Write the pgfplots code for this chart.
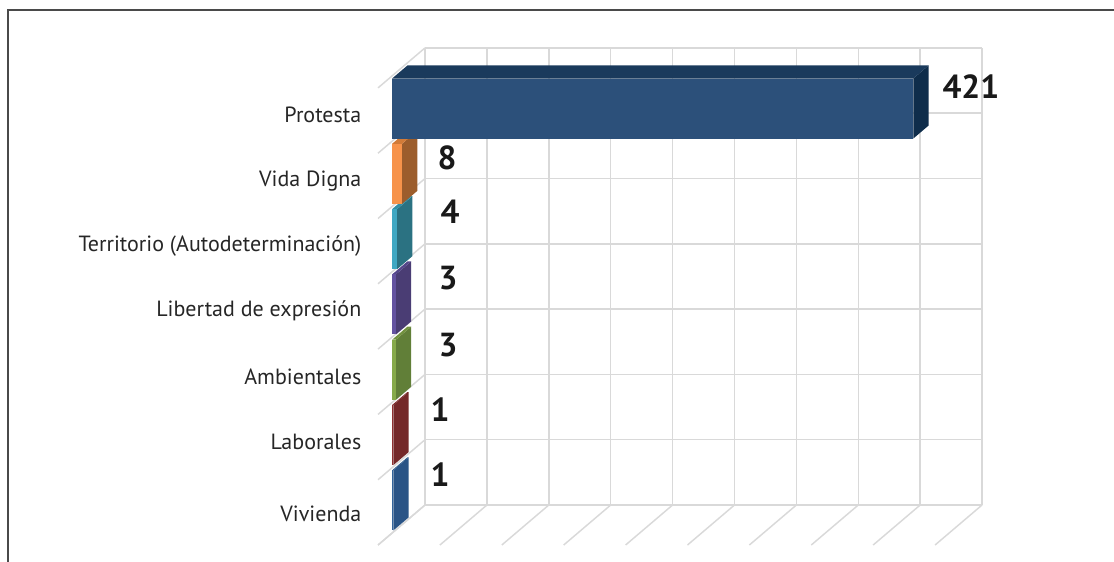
\documentclass[border=0pt]{standalone}
\usepackage{fontspec}
\setmainfont{PT Sans}
\usepackage{pgfplots}
\pgfplotsset{compat=1.18}
\definecolor{gridc}{HTML}{D9D9D9}
\definecolor{frame}{HTML}{4A4A4A}
\definecolor{txt}{HTML}{262626}
% Protesta
\definecolor{pF}{HTML}{2C507A}\definecolor{pT}{HTML}{1A3A5C}\definecolor{pS}{HTML}{0F2D4B}
% Vida Digna
\definecolor{vF}{HTML}{F7934A}\definecolor{vT}{HTML}{D27B38}\definecolor{vS}{HTML}{9C5D2C}
% Territorio
\definecolor{tF}{HTML}{3FA8C3}\definecolor{tT}{HTML}{348EA4}\definecolor{tS}{HTML}{2B7282}
% Libertad
\definecolor{lF}{HTML}{6352A0}\definecolor{lT}{HTML}{54468A}\definecolor{lS}{HTML}{4A3D74}
% Ambientales
\definecolor{aF}{HTML}{86AA4A}\definecolor{aT}{HTML}{72923F}\definecolor{aS}{HTML}{617F38}
% Laborales
\definecolor{bF}{HTML}{8E3031}\definecolor{bT}{HTML}{7E2A2B}\definecolor{bS}{HTML}{742829}
% Vivienda
\definecolor{wF}{HTML}{33639A}\definecolor{wT}{HTML}{2D5A8C}\definecolor{wS}{HTML}{2A5486}
% 3D bar: #1 value, #2 z low, #3 z high, #4 front, #5 top, #6 side
\newcommand\tdbar[6]{%
  \addplot3[fill=#6, draw=none] coordinates {(#1,0.3,#2) (#1,0.625,#2) (#1,0.625,#3) (#1,0.3,#3)};
  \addplot3[fill=#5, draw=none] coordinates {(0,0.3,#3) (#1,0.3,#3) (#1,0.625,#3) (0,0.625,#3)};
  \addplot3[fill=#4, draw=none] coordinates {(0,0.3,#2) (#1,0.3,#2) (#1,0.3,#3) (0,0.3,#3)};
}
\begin{document}
\begin{tikzpicture}
\begin{axis}[
  x={(0.92835pt,0pt)}, y={(35.25pt,30pt)}, z={(0pt,48.975pt)},
  xmin=-400, xmax=600, ymin=0, ymax=1, zmin=-1, zmax=8,
  hide axis, clip=false,
]
\coordinate (BL) at (axis cs:-343.35,1,-0.8576);
\coordinate (TR) at (axis cs:556.6,1,7.7335);
% frame
\draw[frame, line width=1.2pt] (axis cs:-336.9,1,-0.9) -- (axis cs:-336.9,1,7.58) -- (axis cs:560,1,7.58);
% grid: back wall verticals and floor diagonals
\pgfplotsinvokeforeach{0,50,100,150,200,250,300,350,400,450}{
  \addplot3[gridc, line width=1.1pt] coordinates {(#1,1,0) (#1,1,7)};
  \addplot3[gridc, line width=1.1pt] coordinates {(#1,0,0) (#1,1,0)};
}
% grid: back wall horizontals and left wall diagonals
\pgfplotsinvokeforeach{0,1,2,3,4,5,6,7}{
  \addplot3[gridc, line width=1.1pt] coordinates {(0,1,#1) (450,1,#1)};
  \addplot3[gridc, line width=1.1pt] coordinates {(0,0,#1) (0,1,#1)};
}
% bars, bottom to top
\tdbar{1}{0.04}{0.96}{wF}{wT}{wS}
\tdbar{1}{1.04}{1.96}{bF}{bT}{bS}
\tdbar{3}{2.04}{2.96}{aF}{aT}{aS}
\tdbar{3}{3.04}{3.96}{lF}{lT}{lS}
\tdbar{4}{4.04}{4.96}{tF}{tT}{tS}
\tdbar{8}{5.04}{5.96}{vF}{vT}{vS}
\tdbar{421}{6.04}{6.96}{pF}{pT}{pS}
% value labels
\begin{scope}[every node/.style={font=\bfseries\fontsize{25}{26}\selectfont, text=black!90}]
\node at (axis cs:441,1,6.40) {421};
\node at (axis cs:17.8,1,5.31) {8};
\node at (axis cs:20.2,1,4.49) {4};
\node at (axis cs:18.6,1,3.48) {3};
\node at (axis cs:18.6,1,2.45) {3};
\node at (axis cs:12.1,1,1.46) {1};
\node at (axis cs:12.1,1,0.46) {1};
\end{scope}
% category labels
\begin{scope}[every node/.style={anchor=east, font=\fontsize{16.5}{18}\selectfont, text=txt}]
\node at (axis cs:-9.7,0,6.585) {Protesta};
\node at (axis cs:-9.7,0,5.574) {Vida Digna};
\node at (axis cs:-9.7,0,4.579) {Territorio (Autodeterminación)};
\node at (axis cs:-9.7,0,3.583) {Libertad de expresión};
\node at (axis cs:-9.7,0,2.573) {Ambientales};
\node at (axis cs:-9.7,0,1.577) {Laborales};
\node at (axis cs:-9.7,0,0.475) {Vivienda};
\end{scope}
\end{axis}
\pgfresetboundingbox
\path[use as bounding box] (BL) rectangle (TR);
\end{tikzpicture}
\end{document}
